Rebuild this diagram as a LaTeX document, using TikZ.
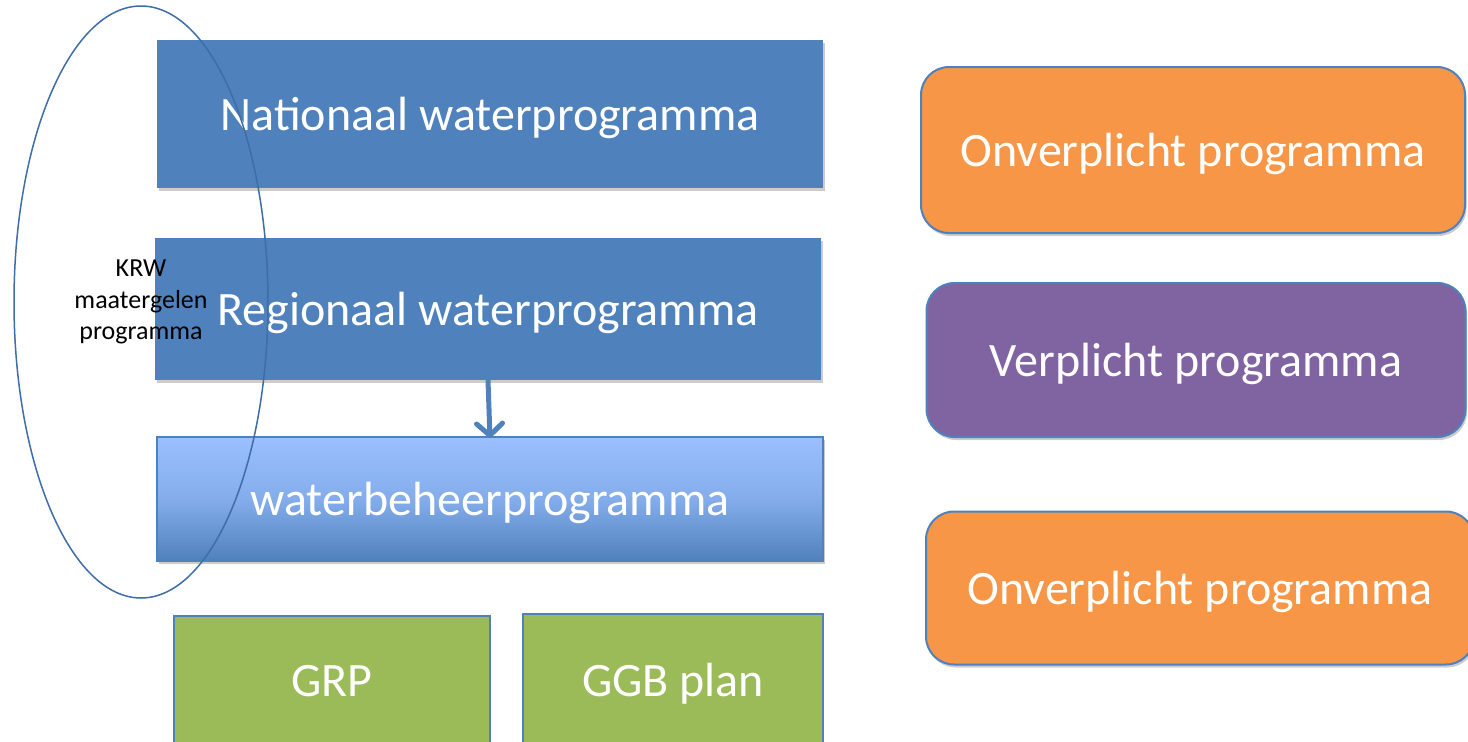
\documentclass[tikz,border=0pt]{standalone}
\usepackage{fontspec}
\setmainfont{Carlito}
\usetikzlibrary{shapes.geometric,shadows,arrows.meta}
\definecolor{acblue}{HTML}{4F81BD}
\definecolor{acline}{HTML}{3E6DA8}
\definecolor{aclight}{HTML}{9BBFFF}
\definecolor{acgreen}{HTML}{9BBB59}
\definecolor{acorange}{HTML}{F79646}
\definecolor{acpurple}{HTML}{8064A2}
\tikzset{
  shad/.style={drop shadow={shadow xshift=1.5pt,shadow yshift=-3pt,fill=black,opacity=0.2}},
  bigtext/.style={text=white,font=\fontsize{48}{54}\selectfont,inner sep=0pt,text depth=0pt},
  bluebox/.style={rectangle,fill=acblue,draw=none,shad,bigtext},
  gradbox/.style={rectangle,top color=aclight,bottom color=acblue,middle color=aclight!70!acblue,draw=acblue,line width=2pt,shad,bigtext},
  greenbox/.style={rectangle,fill=acgreen,draw=acblue,line width=1.5pt,bigtext},
  roundbox/.style={rectangle,rounded corners=28pt,draw=acblue,line width=2pt,shad,bigtext},
  krw/.style={ellipse,draw=acline,line width=1.5pt,inner sep=0pt,align=center,font=\fontsize{26}{31.5}\selectfont},
  flowarrow/.style={draw=acblue,line width=5pt,line cap=round,-{Straight Barb[length=12pt,width=26pt,line join=round,line cap=round]}}
}
\begin{document}
\begin{tikzpicture}[x=1pt,y=-1pt]
\useasboundingbox (0,0) rectangle (1468,742);
\fill[white] (0,0) rectangle (1468,742);
\node[bluebox,minimum width=666pt,minimum height=148pt] (nat) at (490,114) {Nationaal waterprogramma};
\node[bluebox,minimum width=666pt,minimum height=142pt] (reg) at (488,309) {Regionaal waterprogramma};
\node[gradbox,minimum width=666pt,minimum height=124pt] (wb) at (490,499) {waterbeheerprogramma};
\node[greenbox,minimum width=316pt,minimum height=130pt] (grp) at (332,681) {GRP};
\node[greenbox,minimum width=300pt,minimum height=132pt] (ggb) at (673,680) {GGB plan};
\draw[flowarrow] (reg.south) -- ([yshift=-2pt]wb.north);
\node[krw,minimum width=254pt,minimum height=592pt] (ell) at (141,302) {KRW\\maatergelen\\programma};
\node[roundbox,fill=acorange,minimum width=544pt,minimum height=166pt] (on1) at (1193,150) {Onverplicht programma};
\node[roundbox,fill=acpurple,minimum width=539pt,minimum height=154pt] (ver) at (1196,360) {Verplicht programma};
\node[roundbox,fill=acorange,minimum width=548pt,minimum height=153pt] (on2) at (1200,588) {Onverplicht programma};
\end{tikzpicture}
\end{document}
